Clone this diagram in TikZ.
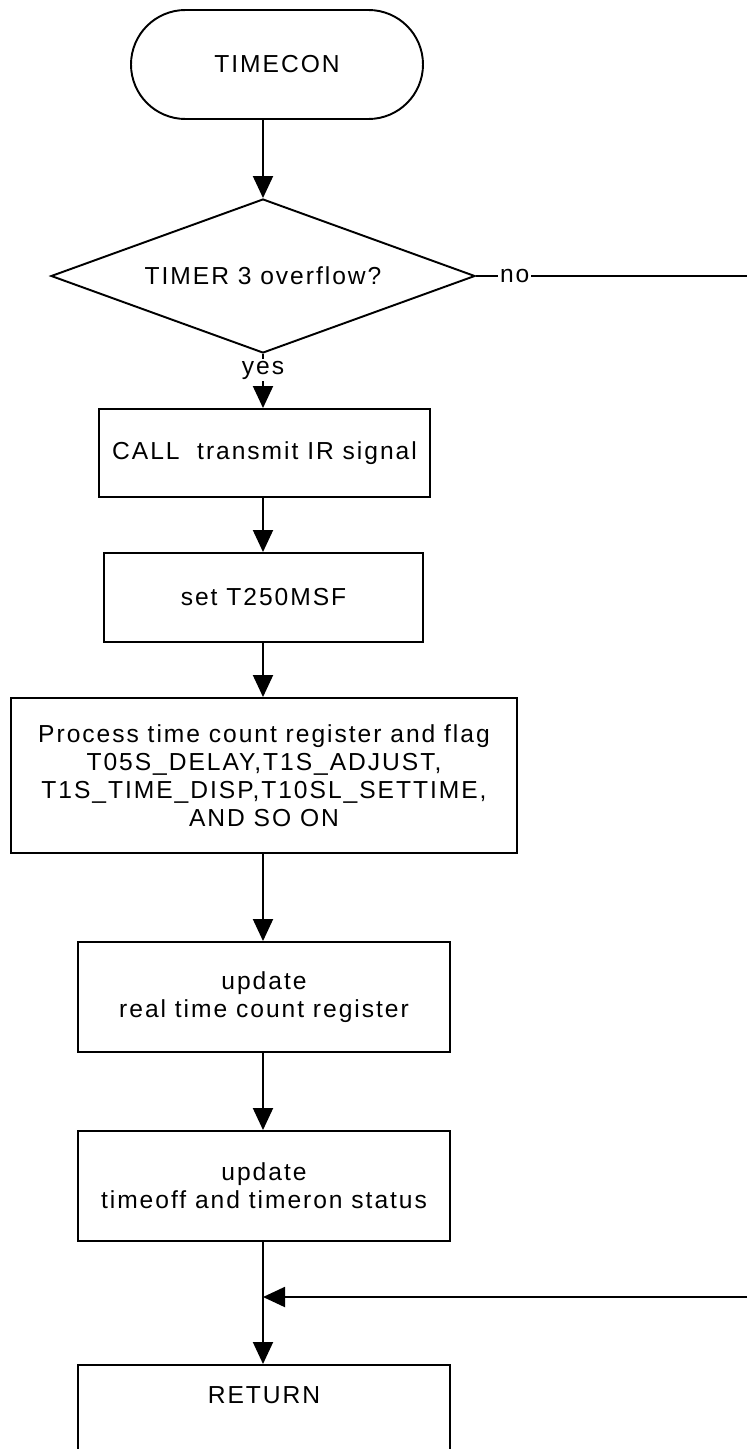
\documentclass[tikz,border=0pt]{standalone}
\usepackage{fontspec}
\setmainfont[LetterSpace=8]{Liberation Sans}
\usetikzlibrary{arrows.meta,positioning,shapes.geometric}

\begin{document}
\begin{tikzpicture}[
  line width=1.1pt,
  font=\fontsize{14}{15.9}\selectfont,
  procbox/.style={draw,rectangle,align=center,inner sep=2pt},
  termbox/.style={draw,rounded corners=1.09cm,minimum width=5.84cm,minimum height=2.18cm},
  decbox/.style={draw,diamond,aspect=2.75,inner sep=0pt,minimum width=8.48cm,minimum height=3.08cm},
  flowarr/.style={-{Triangle[length=0.44cm,width=0.4cm]}},
  lbl/.style={fill=white,inner sep=1pt}]
  \useasboundingbox (0,0) rectangle (14.94,-28.98);
  \clip (0,0) rectangle (14.94,-28.98);
  % Start and test
  \node[termbox] (tc) at (5.54,-1.29) {TIMECON};
  \node[decbox] (dec) at (5.26,-5.52) {TIMER 3 overflow?};
  % Steps
  \node[procbox,minimum width=6.62cm,minimum height=1.76cm]
        (call) at (5.29,-9.06) {CALL~~transmit IR signal};
  \node[procbox,minimum width=6.38cm,minimum height=1.78cm]
        (setf) at (5.27,-11.95) {set T250MSF};
  \node[procbox,minimum width=10.12cm,minimum height=3.10cm]
        (proc) at (5.28,-15.51) {Process time count register and flag\\
        T05S\_DELAY,T1S\_ADJUST,\\T1S\_TIME\_DISP,T10SL\_SETTIME,\\AND SO ON};
  \node[procbox,minimum width=7.44cm,minimum height=2.2cm]
        (updreal) at (5.28,-19.94) {update\\real time count register};
  \node[procbox,minimum width=7.44cm,minimum height=2.2cm]
        (updstat) at (5.28,-23.72) {update\\timeoff and timeron status};
  \node[procbox,minimum width=7.44cm,inner ysep=0pt,text height=0.78cm,
        text depth=1.0cm,anchor=north] (ret) at (5.28,-27.28) {RETURN};
  % Off-page ends
  \coordinate (noend) at (14.94,-5.52);
  \coordinate (loopin) at (14.94,-25.94);
  \coordinate (join) at (5.26,-25.94);
  % Arrows
  \draw[flowarr] (tc.south -| dec.north) -- (dec.north);
  \draw[flowarr] (dec.south) -- node[lbl,pos=0.3] {yes} (dec.south |- call.north);
  \draw (dec.east) -- node[lbl,pos=0.143] {no} (noend);
  \draw[flowarr] (call.south -| dec.south) -- (setf.north -| dec.south);
  \draw[flowarr] (setf.south -| dec.south) -- (proc.north -| dec.south);
  \draw[flowarr] (proc.south -| dec.south) -- (updreal.north -| dec.south);
  \draw[flowarr] (updreal.south -| dec.south) -- (updstat.north -| dec.south);
  \draw[flowarr] (updstat.south -| dec.south) -- (ret.north -| dec.south);
  \draw[flowarr] (loopin) -- (join);
\end{tikzpicture}
\end{document}
